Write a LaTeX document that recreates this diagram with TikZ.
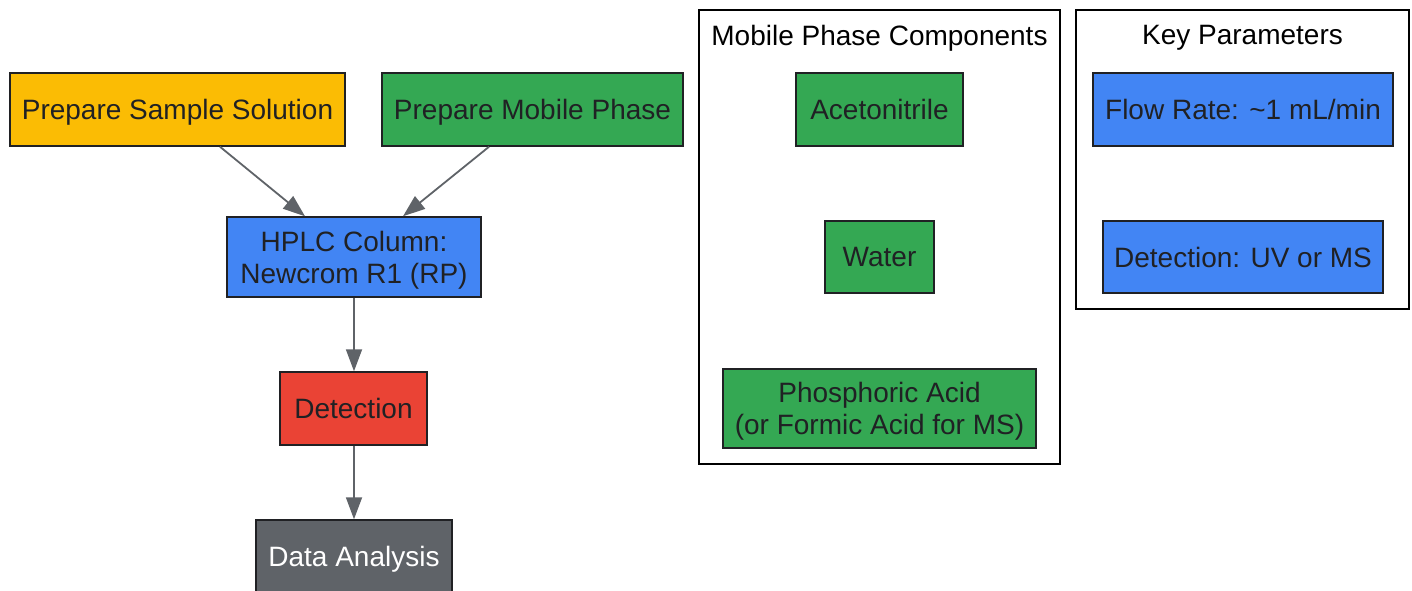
\documentclass[tikz,border=0pt]{standalone}
\usepackage{fontspec}
\setmainfont{Liberation Sans}
\usetikzlibrary{arrows.meta,calc}
\definecolor{gyellow}{HTML}{FBBC04}
\definecolor{ggreen}{HTML}{34A853}
\definecolor{gblue}{HTML}{4285F4}
\definecolor{gred}{HTML}{EA4335}
\definecolor{ggray}{HTML}{5F6368}
\definecolor{gtext}{HTML}{202124}
\tikzset{
  box/.style={draw=gtext, line width=1.5pt, inner sep=0pt, align=center, text=gtext,
    text depth=0pt, font=\fontsize{28}{32}\selectfont},
  cluster/.style={draw=black, line width=2pt, inner sep=0pt},
  ctitle/.style={inner sep=0pt, text=black, text depth=0pt, font=\fontsize{28}{32}\selectfont},
  conn/.style={draw=ggray, line width=1.8pt, -{Triangle[length=22pt,width=16pt]}},
}
\begin{document}
\begin{tikzpicture}[x=1pt,y=-1pt]
\useasboundingbox (0,0) rectangle (1412,590);
% clusters
\node[cluster, minimum width=361pt, minimum height=454pt] (mpc) at (879.5,237) {};
\node[ctitle] (mpct) at (879.5,35) {Mobile Phase Components};
\node[cluster, minimum width=333pt, minimum height=299pt] (kp) at (1242.5,159.5) {};
\node[ctitle] (kpt) at (1242.5,35) {Key Parameters};
% main flow
\node[box, fill=gyellow, minimum width=335pt, minimum height=73pt] (sample) at (177.5,109.5) {Prepare Sample Solution};
\node[box, fill=ggreen, minimum width=301pt, minimum height=73pt] (mobile) at (532.5,109.5) {Prepare Mobile Phase};
\node[box, fill=gblue, minimum width=254pt, minimum height=80pt] (hplc) at (354,257) {HPLC Column:\\Newcrom R1 (RP)};
\node[box, fill=gred, minimum width=147pt, minimum height=73pt] (det) at (353.5,408.5) {Detection};
\node[box, fill=ggray, text=white, minimum width=196pt, minimum height=73pt] (data) at (354,556.5) {Data Analysis};
% mobile phase components
\node[box, fill=ggreen, minimum width=167pt, minimum height=73pt] (acn) at (879.5,109.5) {Acetonitrile};
\node[box, fill=ggreen, minimum width=109pt, minimum height=72pt] (water) at (879.5,257) {Water};
\node[box, fill=ggreen, minimum width=313pt, minimum height=79pt] (acid) at (879.5,408.5) {Phosphoric Acid\\(or Formic Acid for MS)};
% key parameters
\node[box, fill=gblue, minimum width=300pt, minimum height=73pt] (flow) at (1243,109.5) {Flow Rate: \textasciitilde1 mL/min};
\node[box, fill=gblue, minimum width=280pt, minimum height=72pt] (detp) at (1243,257) {Detection: UV or MS};
% connectors
\draw[conn] ([xshift=42.5pt]sample.south) -- ([xshift=-49pt]hplc.north);
\draw[conn] ([xshift=-43.5pt]mobile.south) -- ([xshift=49pt]hplc.north);
\draw[conn] (hplc.south) -- (det.north -| hplc.south);
\draw[conn] (det.south -| hplc.south) -- (data.north -| hplc.south);
\end{tikzpicture}
\end{document}
